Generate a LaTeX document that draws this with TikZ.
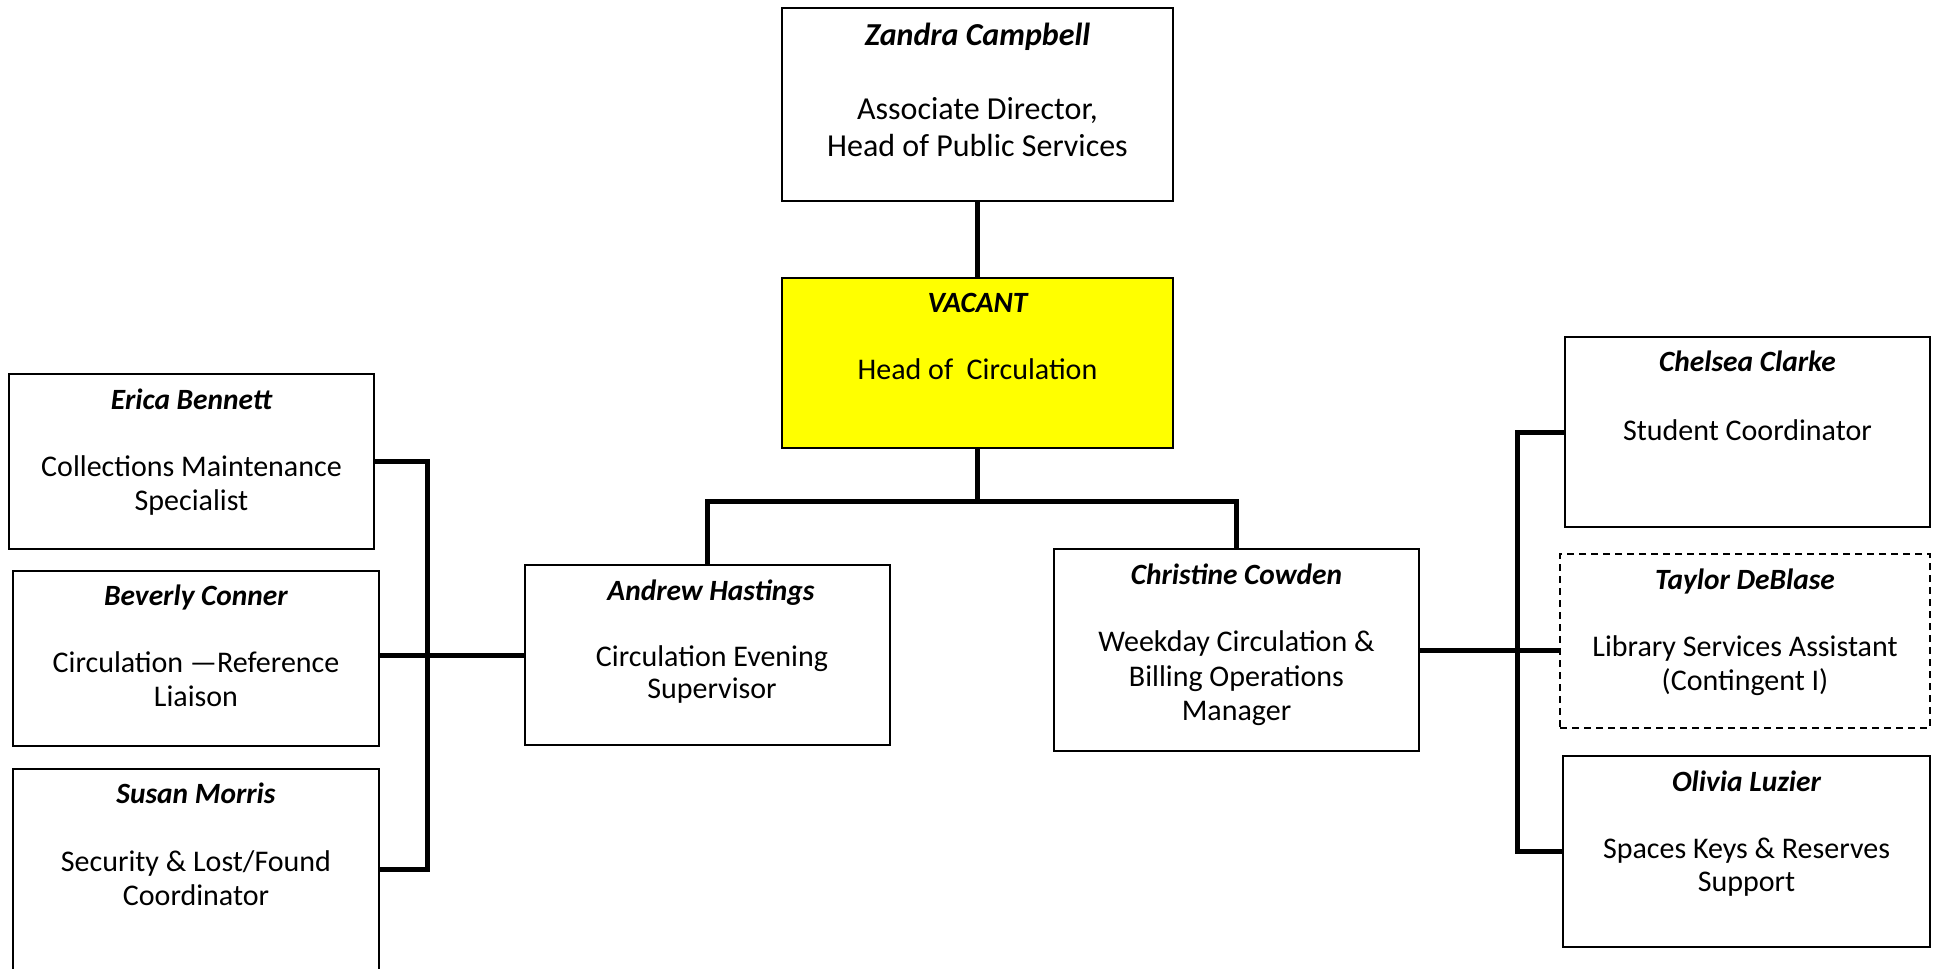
\documentclass[tikz,border=0pt]{standalone}
\usepackage{fontspec}
\setmainfont{Carlito}
\definecolor{boxyellow}{RGB}{255,255,0}
\tikzset{
  box/.style={draw=black, line width=1.8pt, rectangle, inner sep=0pt},
  dashbox/.style={box, line width=1.3pt, dash pattern=on 7pt off 5pt},
  conn/.style={draw=black, line width=5pt, line join=miter},
  ttl/.style={anchor=base, inner sep=0pt, font=\fontsize{29.4}{35}\selectfont\bfseries\itshape},
  txt/.style={anchor=base, inner sep=0pt, font=\fontsize{30}{36}\selectfont},
  bigttl/.style={ttl, font=\fontsize{32}{38}\selectfont\bfseries\itshape},
  bigtxt/.style={txt, font=\fontsize{32}{38}\selectfont},
}
\begin{document}
\begin{tikzpicture}[x=1pt, y=-1pt]
\useasboundingbox (0,0) rectangle (1939,969);
% boxes
\node[box, minimum width=391pt, minimum height=192.7pt] (zandra) at (977.5,104.4) {};
\node[box, fill=boxyellow, minimum width=391pt, minimum height=170pt] (vacant) at (977.5,363) {};
\node[box, minimum width=365pt, minimum height=175pt] (erica) at (191.5,461.5) {};
\node[box, minimum width=366pt, minimum height=175pt] (beverly) at (196,658.5) {};
\node[box, minimum width=366pt, minimum height=206pt] (susan) at (196,872) {};
\node[box, minimum width=365pt, minimum height=180pt] (andrew) at (707.5,655) {};
\node[box, minimum width=365pt, minimum height=202pt] (christine) at (1236.5,650) {};
\node[box, minimum width=365pt, minimum height=190pt] (chelsea) at (1747.5,432) {};
\node[dashbox, minimum width=370pt, minimum height=174pt] (taylor) at (1745,641) {};
\node[box, minimum width=367pt, minimum height=191pt] (olivia) at (1746.5,851.5) {};

% texts
\node[bigttl] (zt) at (977.5,45) {Zandra Campbell};
\node[bigtxt] (z1) at (977.5,119) {Associate Director,};
\node[bigtxt] (z2) at (977.5,156) {Head of Public Services};

\node[ttl] (vt) at (977.5,312.7) {VACANT};
\node[txt] (v1) at (977.5,379.3) {Head of~ Circulation};

\node[ttl] (et) at (191.5,409.3) {Erica Bennett};
\node[txt] (e1) at (191.5,476.7) {Collections Maintenance};
\node[txt] (e2) at (191.5,510.7) {Specialist};

\node[ttl] (bt) at (196,605) {Beverly Conner};
\node[txt] (b1) at (196,672.7) {Circulation —Reference};
\node[txt] (b2) at (196,706.7) {Liaison};

\node[ttl] (st) at (196,803.3) {Susan Morris};
\node[txt] (s1) at (196,871.7) {Security \& Lost/Found};
\node[txt] (s2) at (196,905) {Coordinator};

\node[ttl] (at) at (711,600.7) {Andrew Hastings};
\node[txt] (a1) at (712,666) {Circulation Evening};
\node[txt] (a2) at (712,698.3) {Supervisor};

\node[ttl] (ct) at (1236.5,584.3) {Christine Cowden};
\node[txt] (c1) at (1236.5,651.7) {Weekday Circulation \&};
\node[txt] (c2) at (1236.5,686) {Billing Operations};
\node[txt] (c3) at (1236.5,720) {Manager};

\node[ttl] (cht) at (1747.5,371.7) {Chelsea Clarke};
\node[txt] (ch1) at (1747.5,440) {Student Coordinator};

\node[ttl] (tt) at (1745,589) {Taylor DeBlase};
\node[txt] (t1) at (1745,656.7) {Library Services Assistant};
\node[txt] (t2) at (1745,690.7) {(Contingent I)};

\node[ttl] (ot) at (1746.5,791.7) {Olivia Luzier};
\node[txt] (o1) at (1746.5,858.3) {Spaces Keys \& Reserves};
\node[txt] (o2) at (1746.5,891.7) {Support};

% connectors
\coordinate (hub) at (977.5,501);
\coordinate (lbus) at (427,869);
\coordinate (rbus) at (1517.7,851.5);
\draw[conn] (zandra.south) -- (vacant.north);
\draw[conn] (vacant.south) -- (hub);
\draw[conn] (andrew.north) |- (hub) -| (christine.north);
\draw[conn] (erica.east) -| (lbus) -- (lbus -| susan.east);
\draw[conn] (andrew.west) -- (andrew.west -| beverly.east);
\draw[conn] (chelsea.west) -| (rbus) -- (olivia.west);
\draw[conn] (christine.east) -- (christine.east -| taylor.west);
\end{tikzpicture}
\end{document}
